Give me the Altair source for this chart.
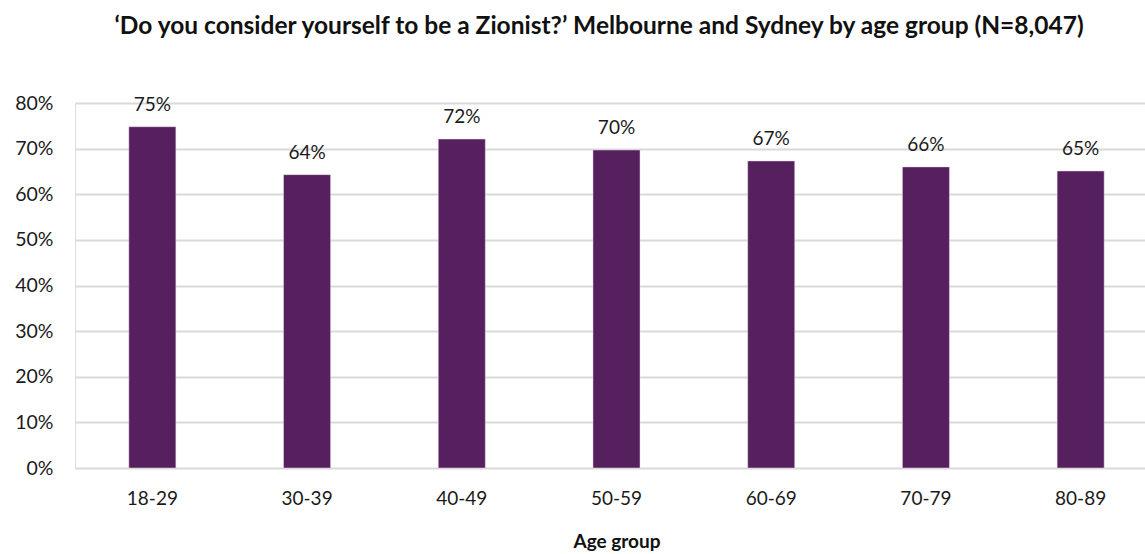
import altair as alt
import pandas as pd

age_groups = ["18-29", "30-39", "40-49", "50-59", "60-69", "70-79", "80-89"]
values = [74.8, 64.3, 72.1, 69.7, 67.3, 66.0, 65.1]
labels = ["75%", "64%", "72%", "70%", "67%", "66%", "65%"]

df = pd.DataFrame({"age": age_groups, "value": values, "label": labels})

FONT = "Lato"
PURPLE = "#56205E"
TXT = "#1a1a1a"

x = alt.X(
    "age:N",
    sort=age_groups,
    title="Age group",
    scale=alt.Scale(range=[0, 1083], paddingInner=0.696, paddingOuter=0.348),
    axis=alt.Axis(
        labelAngle=0,
        labelFontSize=19,
        labelColor=TXT,
        labelFont=FONT,
        labelPadding=21,
        domain=False,
        ticks=False,
        titleFont=FONT,
        titleFontSize=19,
        titleFontWeight="bold",
        titleColor="#111111",
        titlePadding=24,
    ),
)
y = alt.Y(
    "value:Q",
    scale=alt.Scale(domain=[0, 80], nice=False),
    axis=alt.Axis(
        values=[0, 10, 20, 30, 40, 50, 60, 70, 80],
        labelExpr="datum.value + '%'",
        title=None,
        labelFontSize=19.5,
        labelColor=TXT,
        labelFont=FONT,
        labelPadding=22,
        domain=False,
        ticks=False,
        gridColor="#d9d9d9",
        gridWidth=2,
    ),
)

bars = alt.Chart(df).mark_bar(color=PURPLE, stroke="#e8dcea", strokeWidth=0.5).encode(x=x, y=y)
text = alt.Chart(df).mark_text(
    baseline="bottom", dy=-12, fontSize=19, font=FONT, color=TXT
).encode(x=x, y="value:Q", text="label:N")

chart = (
    (bars + text)
    .properties(
        width=1070,
        height=365,
        title=alt.TitleParams(
            "\u2018Do you consider yourself to be a Zionist?\u2019 Melbourne and Sydney by age group (N=8,047)",
            font=FONT,
            fontSize=24.5,
            fontWeight="bold",
            color="#111111",
            anchor="middle",
            offset=54,
            dx=-11,
        ),
        padding={"left": 75, "top": 103, "right": 0, "bottom": 86},
        autosize=alt.AutoSizeParams(type="none"),
    )
    .configure_view(stroke=None)
    .configure(background="white")
)

chart.save("out.html", embed_options={"renderer": "svg", "actions": False})
